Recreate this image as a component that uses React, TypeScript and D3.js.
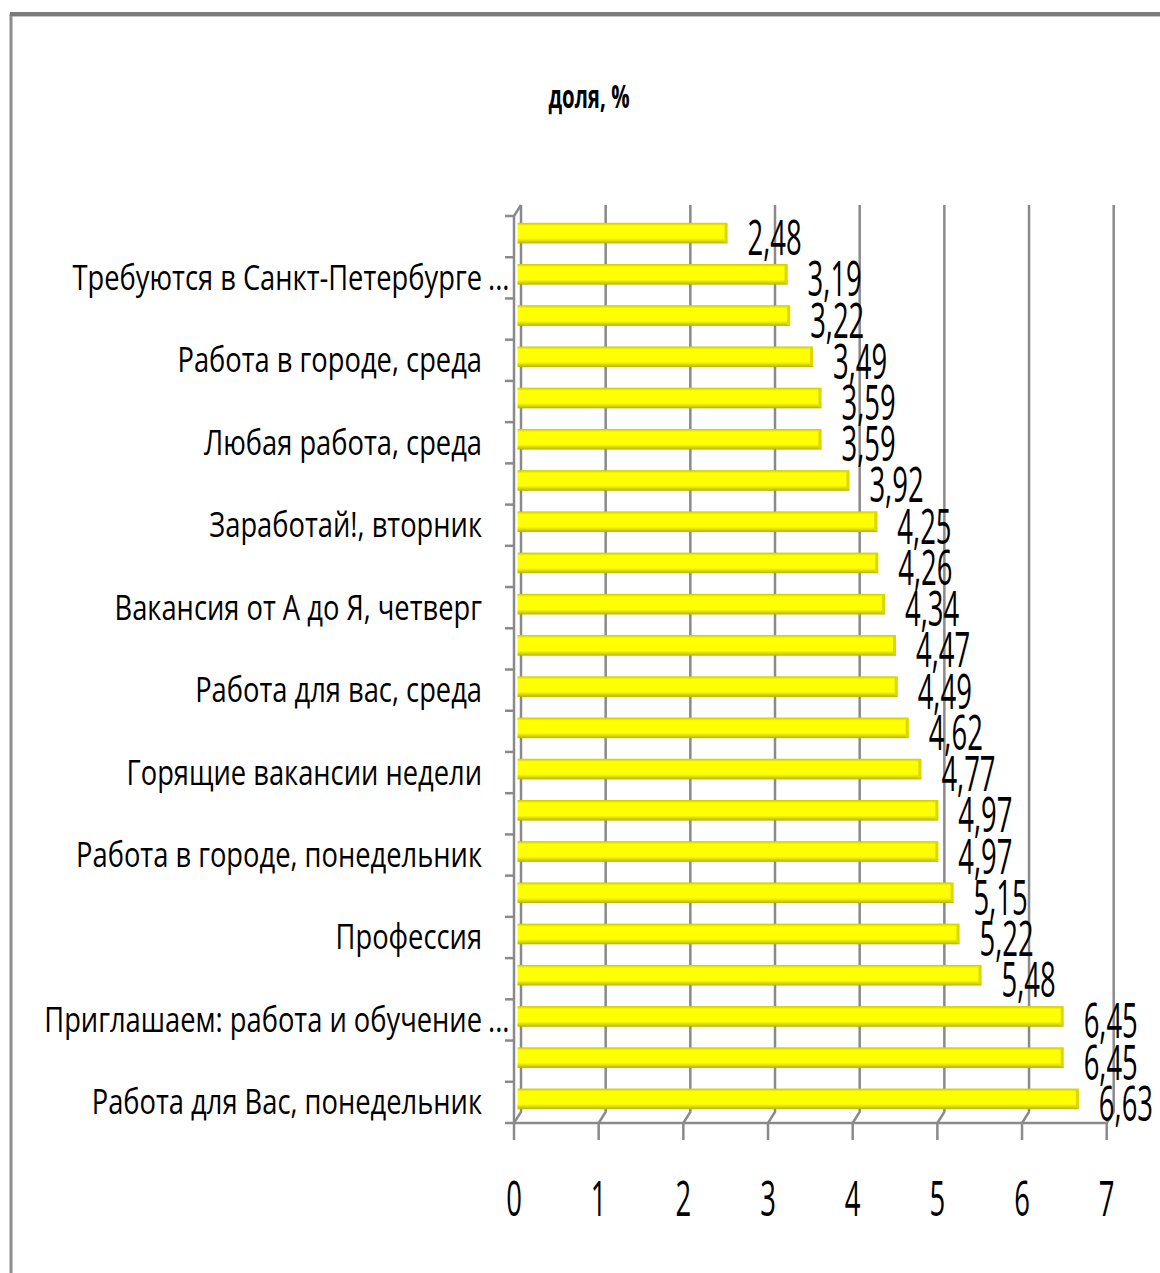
import React from "react";
import * as d3 from "d3";

// категории сверху вниз; подписи видны только у каждой второй
const categories = [
  "", "Требуются в Санкт-Петербурге ...", "", "Работа в городе, среда", "", "Любая работа, среда",
  "", "Заработай!, вторник", "", "Вакансия от А до Я, четверг", "", "Работа для вас, среда",
  "", "Горящие вакансии недели", "", "Работа в городе, понедельник", "", "Профессия",
  "", "Приглашаем: работа и обучение ...", "", "Работа для Вас, понедельник",
];
const shares = [
  2.48, 3.19, 3.22, 3.49, 3.59, 3.59, 3.92, 4.25, 4.26, 4.34, 4.47,
  4.49, 4.62, 4.77, 4.97, 4.97, 5.15, 5.22, 5.48, 6.45, 6.45, 6.63,
];
const xTicks = [0, 1, 2, 3, 4, 5, 6, 7];
const title = "доля, %";

const W = 1160;
const H = 1273;
const DX = -7; // сдвиг передней грани (псевдо-3D)
const DY = 11;
const GRID = "#8a8a8a";
const FONT = "'Open Sans', sans-serif";

export default function App() {
  const idx = shares.map((_, i) => i);
  const x = d3.scaleLinear().domain([0, 7]).range([521, 1113.7]);
  const y = d3.scaleBand<number>().domain(idx).range([205, 1112]).paddingInner(0.5).paddingOuter(0.25);
  const yStep = d3.scaleLinear().domain([0, idx.length]).range([205, 1112]);
  const fmt = (v: number) => d3.format(".2f")(v).replace(".", ",");

  const top = 205;
  const floor = 1112;

  return (
    <svg width={W} height={H} style={{ position: "absolute", left: 0, top: 0, background: "#fff" }}>
      <defs>
        <linearGradient id="bar" x1="0" y1="0" x2="0" y2="1">
          <stop offset="0" stopColor="#c9c900" />
          <stop offset="0.15" stopColor="#ffff00" />
          <stop offset="0.75" stopColor="#ffff00" />
          <stop offset="1" stopColor="#b3b300" />
        </linearGradient>
      </defs>

      {/* рамка */}
      <rect x={11} y={15} width={W + 20} height={H + 20} fill="none" stroke="#8c8c8c" strokeWidth={3} />
      <line x1={10} x2={W} y1={14} y2={14} stroke="#7a7a7a" strokeWidth={4} />

      <text transform={`translate(589,108) scale(0.62,1)`} textAnchor="middle"
            fontFamily={FONT} fontWeight="bold" fontSize={33} fill="#000">{title}</text>

      {/* сетка задней стены и пол */}
      <g stroke={GRID} strokeWidth={2.5} fill="none">
        {xTicks.map((t) => (
          <path key={t} d={`M${x(t)},${top} V${floor} L${x(t) + DX},${floor + DY}`} />
        ))}
        <path d={`M${x(0) + DX},${top + DY} L${x(0)},${top}`} />
        <line x1={x(0) + DX} x2={x(0) + DX} y1={top + DY} y2={floor + DY} />
        <line x1={x(0) + DX - 9} x2={x(7) + DX} y1={floor + DY} y2={floor + DY} />
        {xTicks.map((t) => (
          <line key={t} x1={x(t) + DX} x2={x(t) + DX} y1={floor + DY} y2={floor + DY + 17} />
        ))}
        {d3.range(idx.length).map((k) => (
          <line key={k} x1={x(0) + DX - 9} x2={x(0) + DX} y1={yStep(k) + DY} y2={yStep(k) + DY} />
        ))}
      </g>

      {/* столбики */}
      <g>
        {shares.map((v, i) => {
          const y0 = (y(i) ?? 0) + DY / 2 + 2;
          const x0 = x(0) + DX / 2;
          const x1 = x(v) + DX / 2;
          return (
            <g key={i}>
              <rect x={x0} y={y0} width={x1 - x0} height={y.bandwidth()} fill="url(#bar)" />
              <rect x={x1 - 3} y={y0 + 1} width={3} height={y.bandwidth() - 2} fill="#d9d900" />
            </g>
          );
        })}
      </g>

      {/* значения */}
      <g fontFamily={FONT} fontSize={49} fill="#000">
        {shares.map((v, i) => {
          const cy = (y(i) ?? 0) + DY / 2 + 2 + y.bandwidth() / 2;
          return (
            <text key={i} transform={`translate(${x(v) + DX / 2 + 20},${cy + 22}) scale(0.56,1)`}>{fmt(v)}</text>
          );
        })}
      </g>

      {/* подписи категорий */}
      <g fontFamily={FONT} fontSize={35} fill="#000">
        {categories.map((c, i) => {
          if (!c) return null;
          const cy = yStep(i + 0.5) + DY;
          const trunc = c.endsWith(" ...");
          const txt = trunc ? c.slice(0, -4) : c;
          return (
            <g key={i}>
              <text transform={`translate(482,${cy + 12}) scale(0.78,1)`} textAnchor="end">{txt}</text>
              {trunc && <text transform={`translate(488,${cy + 12}) scale(0.78,1)`}>...</text>}
            </g>
          );
        })}
      </g>

      {/* ось X */}
      <g fontFamily={FONT} fontSize={49} fill="#000" textAnchor="middle">
        {xTicks.map((t) => (
          <text key={t} transform={`translate(${x(t) + DX},1216) scale(0.56,1)`}>{t}</text>
        ))}
      </g>
    </svg>
  );
}
